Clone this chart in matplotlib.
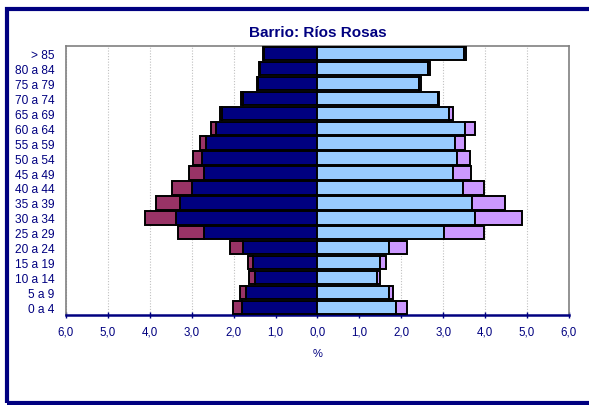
import matplotlib.pyplot as plt
import numpy as np
from matplotlib.patches import Rectangle

plt.rcParams['font.family'] = ['Liberation Sans', 'DejaVu Sans']

edades = ['0 a 4', '5 a 9', '10 a 14', '15 a 19', '20 a 24', '25 a 29',
          '30 a 34', '35 a 39', '40 a 44', '45 a 49', '50 a 54', '55 a 59',
          '60 a 64', '65 a 69', '70 a 74', '75 a 79', '80 a 84', '> 85']

# % sobre el total del barrio
hombres_esp = [1.81, 1.71, 1.50, 1.54, 1.77, 2.71, 3.37, 3.29, 3.00,
               2.71, 2.76, 2.66, 2.43, 2.27, 1.77, 1.42, 1.37, 1.28]
hombres_ext = [0.20, 0.13, 0.13, 0.11, 0.31, 0.62, 0.75, 0.57, 0.47,
               0.35, 0.22, 0.14, 0.10, 0.06, 0.05, 0.02, 0.02, 0.02]
mujeres_esp = [1.87, 1.70, 1.41, 1.48, 1.70, 3.01, 3.75, 3.69, 3.46,
               3.23, 3.32, 3.28, 3.52, 3.13, 2.87, 2.42, 2.64, 3.50]
mujeres_ext = [0.26, 0.11, 0.08, 0.15, 0.44, 0.96, 1.12, 0.79, 0.51,
               0.44, 0.33, 0.25, 0.24, 0.10, 0.04, 0.04, 0.05, 0.04]

ticks = [-6, -5, -4, -3, -2, -1, 0, 1, 2, 3, 4, 5, 6]
tick_labels = ['6,0', '5,0', '4,0', '3,0', '2,0', '1,0', '0,0',
               '1,0', '2,0', '3,0', '4,0', '5,0', '6,0']

navy = '#000080'
y = np.arange(len(edades))
h = 0.9

fig = plt.figure(figsize=(5.89, 4.06), dpi=100)
fig.patches.append(Rectangle((0.012, 0.005), 1.1, 0.97, transform=fig.transFigure,
                             fill=False, edgecolor=navy, linewidth=3))
ax = fig.add_axes([0.112, 0.222, 0.854, 0.662])

hm = -np.array(hombres_esp)
ax.barh(y, hm, height=h, color='#000080', edgecolor='black', linewidth=1.4, zorder=3)
ax.barh(y, -np.array(hombres_ext), left=hm, height=h, color='#993366',
        edgecolor='black', linewidth=1.4, zorder=3)
ax.barh(y, mujeres_esp, height=h, color='#99CCFF', edgecolor='black', linewidth=1.4, zorder=3)
ax.barh(y, mujeres_ext, left=mujeres_esp, height=h, color='#CC99FF',
        edgecolor='black', linewidth=1.4, zorder=3)

ax.set_xlim(-6, 6)
ax.set_ylim(-0.5, len(edades) - 0.5)
ax.set_xticks(ticks)
ax.set_xticklabels(tick_labels, fontsize=8.3, color=navy)
ax.set_yticks(y)
ax.set_yticklabels(edades, fontsize=8.6, color=navy)
ax.tick_params(axis='y', length=0, pad=8)
ax.tick_params(axis='x', direction='inout', length=5, color=navy, width=1, pad=5)
ax.xaxis.grid(True, color='#c0c0c0', linestyle=(0, (1, 1.5)), linewidth=0.8, zorder=0)

for s in ['top', 'left', 'right']:
    ax.spines[s].set_color('#808080')
    ax.spines[s].set_linewidth(1.2)
ax.spines['bottom'].set_color(navy)
ax.spines['bottom'].set_linewidth(1.8)

ax.set_xlabel('%', fontsize=8, color=navy, labelpad=8)
ax.set_title('Barrio: Ríos Rosas', fontsize=11, fontweight='bold', color=navy, pad=7)

fig.savefig('out.png', dpi=100)
